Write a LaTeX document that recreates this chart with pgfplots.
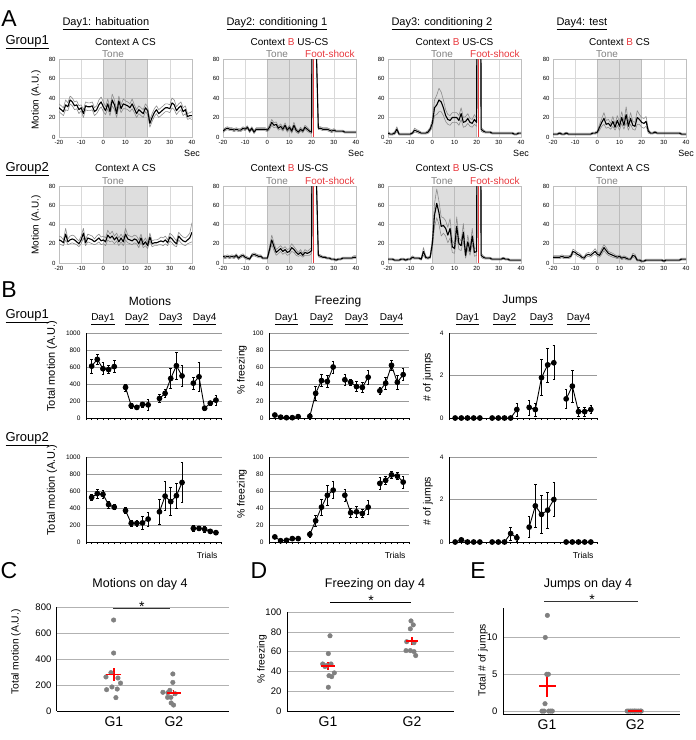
\documentclass[border=0pt]{standalone}
\usepackage{pgfplots}
\pgfplotsset{compat=1.18}
\usepackage{pgfplotstable}
\usepackage{fontspec}
\setmainfont{Liberation Sans}
\definecolor{shock}{HTML}{E8383D}
\definecolor{ptg}{HTML}{808080}
\definecolor{tonegray}{HTML}{7F7F7F}
\newcommand{\fs}[1]{\fontsize{#1}{#1}\selectfont}

% ---------- Panel A data: t, mean, sem ----------
\pgfplotstableread[row sep=\\]{
t m s\\
-20 30 4\\ -19 28 4\\ -18 26 4\\ -17 33 5\\ -16 31 4\\ -15 38 4\\ -14 36 4\\ -13 32 4\\ -12 33 4\\ -11 28 4\\ -10 30 3\\ -9 24 4\\ -8 32 4\\ -7 31 4\\ -6 31 4\\ -5 32 4\\ -4 26 4\\ -3 28 4\\ -2 33 5\\ -1 36 5\\ 0 31 5\\ 1 27 4\\ 2 34 5\\ 3 26 4\\ 4 38 6\\ 5 33 5\\ 6 24 4\\ 7 37 5\\ 8 29 4\\ 9 34 5\\ 10 33 4\\ 11 32 4\\ 12 30 4\\ 13 34 5\\ 14 29 4\\ 15 24 4\\ 16 28 4\\ 17 26 4\\ 18 24 4\\ 19 30 4\\ 20 27 4\\ 21 14 4\\ 22 20 4\\ 23 25 4\\ 24 28 4\\ 25 24 4\\ 26 26 4\\ 27 28 4\\ 28 30 4\\ 29 30 4\\ 30 29 4\\ 31 35 5\\ 32 33 5\\ 33 27 4\\ 34 30 4\\ 35 32 4\\ 36 26 4\\ 37 28 4\\ 38 21 3\\ 39 22 3\\ 40 22 4\\
}\aA
\pgfplotstableread[row sep=\\]{
t m s\\
-20 6 1.5\\ -19 8 1.5\\ -18 9 1.5\\ -17 8 1.5\\ -16 8 1.5\\ -15 7 1.5\\ -14 8 1.5\\ -13 7 1.5\\ -12 7 1.5\\ -11 9 1.5\\ -10 8 1.5\\ -9 10 1.5\\ -8 6 1.5\\ -7 9 1.5\\ -6 5 1.5\\ -5 8 1.5\\ -4 8 1.5\\ -3 8 1.5\\ -2 8 1.5\\ -1 8 1.5\\ 0 7 1.5\\ 1 10 2.5\\ 2 15 3\\ 3 12 2.5\\ 4 13 2.5\\ 5 9 2\\ 6 11 2.5\\ 7 8 2\\ 8 12 2.5\\ 9 7 2\\ 10 10 2\\ 11 6 2\\ 12 12 3\\ 13 7 2\\ 14 5 1.5\\ 15 8 2\\ 16 6 1.5\\ 17 10 2\\ 18 8 2\\ 19 6 1.5\\ 20 5 1.5\\ 21 1000 20\\ 22 100 10\\ 23 9 1.5\\ 24 9 1.5\\ 25 8 1.5\\ 26 8 1.5\\ 27 8 1.5\\ 28 7 1.5\\ 29 6 1.5\\ 30 7 1.5\\ 31 6 1\\ 32 6 1\\ 33 6 1\\ 34 6 1\\ 35 5 1\\ 36 5 1\\ 37 5 1\\ 38 5 1\\ 39 5 1\\ 40 5 1\\
}\aB
\pgfplotstableread[row sep=\\]{
t m s\\
-20 4 1.5\\ -19 3 1\\ -18 3 1\\ -17 4 1.5\\ -16 8 2.5\\ -15 3 1\\ -14 3 1\\ -13 3 1\\ -12 3 1\\ -11 3 1\\ -10 3 1\\ -9 4 1\\ -8 7 2\\ -7 6 1.5\\ -6 5 1.5\\ -5 4 1\\ -4 4 1\\ -3 4 1\\ -2 5 1.5\\ -1 8 2\\ 0 14 4\\ 1 30 8\\ 2 33 10\\ 3 38 12\\ 4 36 10\\ 5 30 8\\ 6 22 6\\ 7 18 5\\ 8 17 5\\ 9 20 5\\ 10 20 5\\ 11 20 5\\ 12 17 5\\ 13 24 6\\ 14 15 5\\ 15 16 5\\ 16 19 5\\ 17 15 4\\ 18 14 4\\ 19 18 5\\ 20 15 4\\ 21 1000 20\\ 22 8 2\\ 23 6 1.5\\ 24 5 1\\ 25 5 1\\ 26 5 1\\ 27 4 1\\ 28 4 1\\ 29 4 1\\ 30 4 1\\ 31 4 1\\ 32 4 1\\ 33 4 1\\ 34 4 1\\ 35 4 1\\ 36 4 1\\ 37 3 1\\ 38 3 1\\ 39 4 1\\ 40 4 1\\
}\aC
\pgfplotstableread[row sep=\\]{
t m s\\
-20 3 1\\ -19 3 1\\ -18 3 1\\ -17 4 1\\ -16 3 1\\ -15 3 1\\ -14 4 1\\ -13 3 1\\ -12 3 1\\ -11 3 1\\ -10 3 1\\ -9 3 1\\ -8 3 1\\ -7 3 1\\ -6 3 1\\ -5 3 1\\ -4 3 1\\ -3 3 1\\ -2 4 1\\ -1 4 1\\ 0 5 1.5\\ 1 10 3\\ 2 15 4\\ 3 19 6\\ 4 13 4\\ 5 14 4\\ 6 11 3\\ 7 16 5\\ 8 10 3\\ 9 17 5\\ 10 11 4\\ 11 20 6\\ 12 12 4\\ 13 23 8\\ 14 11 4\\ 15 19 6\\ 16 12 4\\ 17 11 4\\ 18 20 7\\ 19 18 5\\ 20 15 5\\ 21 14 5\\ 22 16 5\\ 23 6 2\\ 24 4 1\\ 25 4 1\\ 26 5 1\\ 27 4 1\\ 28 4 1\\ 29 4 1\\ 30 4 1\\ 31 4 1\\ 32 4 1\\ 33 4 1\\ 34 4 1\\ 35 4 1\\ 36 4 1\\ 37 4 1\\ 38 3 1\\ 39 3 1\\ 40 3 1\\
}\aD
\pgfplotstableread[row sep=\\]{
t m s\\
-20 24 4\\ -19 23 4\\ -18 21 3\\ -17 30 6\\ -16 22 3\\ -15 24 4\\ -14 25 4\\ -13 24 4\\ -12 22 3\\ -11 20 3\\ -10 24 4\\ -9 31 5\\ -8 21 3\\ -7 26 4\\ -6 25 4\\ -5 24 4\\ -4 22 3\\ -3 24 4\\ -2 26 4\\ -1 23 4\\ 0 24 4\\ 1 22 4\\ 2 29 5\\ 3 26 4\\ 4 28 5\\ 5 24 4\\ 6 27 4\\ 7 22 4\\ 8 26 4\\ 9 22 4\\ 10 30 6\\ 11 25 4\\ 12 24 4\\ 13 23 4\\ 14 25 4\\ 15 24 4\\ 16 20 4\\ 17 26 4\\ 18 19 3\\ 19 22 4\\ 20 18 3\\ 21 27 4\\ 22 20 3\\ 23 21 3\\ 24 21 3\\ 25 22 3\\ 26 23 4\\ 27 22 4\\ 28 24 4\\ 29 21 3\\ 30 27 4\\ 31 25 4\\ 32 22 4\\ 33 20 3\\ 34 28 4\\ 35 25 4\\ 36 23 4\\ 37 22 4\\ 38 24 4\\ 39 26 5\\ 40 32 10\\
}\bA
\pgfplotstableread[row sep=\\]{
t m s\\
-20 7 1.5\\ -19 6 1.5\\ -18 7 1.5\\ -17 6 1.5\\ -16 7 1.5\\ -15 6 1.5\\ -14 8 1.5\\ -13 5 1.5\\ -12 7 1.5\\ -11 8 1.5\\ -10 6 1.5\\ -9 5 1.5\\ -8 4 1\\ -7 8 1.5\\ -6 9 1.5\\ -5 8 1.5\\ -4 7 1.5\\ -3 7 1.5\\ -2 5 1\\ -1 5 1\\ 0 5 1\\ 1 14 3\\ 2 24 5\\ 3 17 4\\ 4 11 3\\ 5 13 3\\ 6 15 3\\ 7 12 3\\ 8 14 3\\ 9 11 3\\ 10 12 3\\ 11 16 4\\ 12 14 3\\ 13 11 3\\ 14 9 2\\ 15 11 3\\ 16 8 2\\ 17 11 3\\ 18 10 2\\ 19 11 3\\ 20 13 3\\ 21 1000 20\\ 22 100 10\\ 23 8 1.5\\ 24 7 1.5\\ 25 6 1\\ 26 6 1\\ 27 5 1\\ 28 5 1\\ 29 4 1\\ 30 4 1\\ 31 3 1\\ 32 4 1\\ 33 4 1\\ 34 5 1\\ 35 5 1\\ 36 5 1\\ 37 5 1\\ 38 5 1\\ 39 6 1.5\\ 40 6 1.5\\
}\bB
\pgfplotstableread[row sep=\\]{
t m s\\
-20 4 1\\ -19 4 1\\ -18 4 1\\ -17 3 1\\ -16 3 1\\ -15 3 1\\ -14 4 1\\ -13 4 1\\ -12 3 1\\ -11 4 1\\ -10 4 1\\ -9 6 1.5\\ -8 5 1\\ -7 5 1\\ -6 5 1\\ -5 4 1\\ -4 12 4\\ -3 6 1.5\\ -2 5 1\\ -1 6 1.5\\ 0 20 6\\ 1 50 12\\ 2 62 15\\ 3 52 12\\ 4 38 10\\ 5 39 8\\ 6 36 8\\ 7 29 8\\ 8 36 10\\ 9 17 6\\ 10 15 5\\ 11 38 10\\ 12 20 6\\ 13 18 5\\ 14 32 9\\ 15 8 3\\ 16 22 7\\ 17 12 4\\ 18 28 8\\ 19 11 4\\ 20 12 4\\ 21 1000 20\\ 22 8 2\\ 23 6 1.5\\ 24 5 1\\ 25 5 1\\ 26 5 1\\ 27 4 1\\ 28 4 1\\ 29 4 1\\ 30 4 1\\ 31 4 1\\ 32 5 1\\ 33 4 1\\ 34 4 1\\ 35 3 1\\ 36 3 1\\ 37 3 1\\ 38 3 1\\ 39 3 1\\ 40 3 1\\
}\bC
\pgfplotstableread[row sep=\\]{
t m s\\
-20 6 1.5\\ -19 6 1.5\\ -18 6 1.5\\ -17 6 1.5\\ -16 7 1.5\\ -15 6 1.5\\ -14 6 1.5\\ -13 6 1.5\\ -12 7 1.5\\ -11 12 2.5\\ -10 11 2\\ -9 9 2\\ -8 8 2\\ -7 6 1.5\\ -6 5 1.5\\ -5 8 2\\ -4 9 2\\ -3 8 2\\ -2 10 2\\ -1 12 3\\ 0 9 2\\ 1 8 2\\ 2 12 3\\ 3 16 3\\ 4 13 3\\ 5 10 2\\ 6 9 2\\ 7 8 2\\ 8 7 1.5\\ 9 6 1.5\\ 10 7 1.5\\ 11 5 1.5\\ 12 6 1.5\\ 13 5 1.5\\ 14 4 1\\ 15 4 1\\ 16 8 2\\ 17 7 2\\ 18 3 1\\ 19 3 1\\ 20 2 1\\ 21 2 1\\ 22 3 1\\ 23 3 1\\ 24 3 1\\ 25 3 1\\ 26 3 1\\ 27 3 1\\ 28 3 1\\ 29 3 1\\ 30 2 1\\ 31 3 1\\ 32 3 1\\ 33 3 1\\ 34 3 1\\ 35 3 1\\ 36 3 1\\ 37 3 1\\ 38 4 1\\ 39 4 1\\ 40 4 1\\
}\bD

% ---------- Panel B data: trial, mean, sem ----------
\pgfplotstableread[row sep=\\]{
x y e\\
1 610 80\\ 2 690 60\\ 3 580 70\\ 4 570 45\\ 5 605 70\\ 6 nan 0\\ 7 360 40\\ 8 145 25\\ 9 125 20\\ 10 160 30\\ 11 155 65\\ 12 nan 0\\ 13 230 45\\ 14 290 50\\ 15 465 120\\ 16 615 155\\ 17 495 125\\ 18 nan 0\\ 19 410 70\\ 20 485 165\\ 21 115 20\\ 22 175 25\\ 23 210 55\\
}\motA
\pgfplotstableread[row sep=\\]{
x y e\\
1 525 40\\ 2 570 55\\ 3 560 45\\ 4 440 40\\ 5 410 30\\ 6 nan 0\\ 7 370 35\\ 8 220 30\\ 9 220 40\\ 10 225 75\\ 11 270 80\\ 12 nan 0\\ 13 355 150\\ 14 540 170\\ 15 475 165\\ 16 545 150\\ 17 700 235\\ 18 nan 0\\ 19 160 35\\ 20 160 25\\ 21 150 35\\ 22 125 20\\ 23 110 25\\
}\motB
\pgfplotstableread[row sep=\\]{
x y e\\
1 3.5 2\\ 2 1 1\\ 3 0.4 0.5\\ 4 0.4 0.5\\ 5 1.6 1\\ 6 nan 0\\ 7 2 3\\ 8 29 8\\ 9 44 7\\ 10 43 7\\ 11 60 7\\ 12 nan 0\\ 13 45 7\\ 14 42 4\\ 15 37 6\\ 16 36 6\\ 17 48 8\\ 18 nan 0\\ 19 32 4\\ 20 41 7\\ 21 62 6\\ 22 42 8\\ 23 51 7\\
}\frzA
\pgfplotstableread[row sep=\\]{
x y e\\
1 6 1.5\\ 2 1.5 1\\ 3 2 1\\ 4 4 1\\ 5 4 1\\ 6 nan 0\\ 7 9 4\\ 8 25 7\\ 9 41 9\\ 10 55 12\\ 11 61 10\\ 12 nan 0\\ 13 55 7\\ 14 34.5 5\\ 15 35.5 7\\ 16 33.5 5\\ 17 41 8\\ 18 nan 0\\ 19 69 7\\ 20 72.5 5\\ 21 79 4\\ 22 77.5 4\\ 23 70.5 7\\
}\frzB
\pgfplotstableread[row sep=\\]{
x y e\\
1 0 0\\ 2 0 0\\ 3 0 0\\ 4 0 0\\ 5 0 0\\ 6 nan 0\\ 7 0 0\\ 8 0 0\\ 9 0 0\\ 10 0 0\\ 11 0.4 0.3\\ 12 nan 0\\ 13 0.5 0.35\\ 14 0.4 0.3\\ 15 1.9 0.85\\ 16 2.5 0.8\\ 17 2.6 0.8\\ 18 nan 0\\ 19 0.9 0.45\\ 20 1.5 0.75\\ 21 0.3 0.2\\ 22 0.3 0.2\\ 23 0.4 0.2\\
}\jmpA
\pgfplotstableread[row sep=\\]{
x y e\\
1 0 0\\ 2 0.1 0.08\\ 3 0 0\\ 4 0 0\\ 5 0 0\\ 6 nan 0\\ 7 0 0\\ 8 0 0\\ 9 0 0\\ 10 0.4 0.3\\ 11 0.2 0.15\\ 12 nan 0\\ 13 0.7 0.5\\ 14 1.7 1.0\\ 15 1.3 0.9\\ 16 1.5 0.85\\ 17 2.0 0.8\\ 18 nan 0\\ 19 0 0\\ 20 0 0\\ 21 0 0\\ 22 0 0\\ 23 0 0\\
}\jmpB

\pgfplotsset{
  Astyle/.style={scale only axis, anchor=south west, width=133pt, height=78pt,
    xmin=-20, xmax=40, ymin=0, ymax=80,
    xtick={-20,-10,...,40}, ytick={0,20,...,80}, grid=major,
    major grid style={draw=black!15, line width=0.5pt},
    axis line style={draw=black!25, line width=0.5pt},
    tick style={draw=none},
    tick label style={font=\fs{6}},
    /pgf/number format/assume math mode=true},
  sem/.style={draw=black!45, line width=0.6pt, line join=round, no markers},
  mean/.style={draw=black, line width=1.1pt, line join=round, no markers},
  Bstyle/.style={scale only axis, anchor=south west, height=85pt, xmin=0, xmax=24, ymin=0,
    axis x line=bottom, axis y line=left, axis line style={-, line width=0.8pt, black},
    xtick={0,...,24}, xticklabels={,,}, tick align=outside, major tick length=2pt,
    xtick style={black, line width=0.4pt}, ytick style={draw=none},
    ymajorgrids, major grid style={draw=black!40, line width=0.5pt},
    tick label style={font=\fs{6.5}},
    /pgf/number format/assume math mode=true, /pgf/number format/1000 sep={},
    unbounded coords=jump, clip=false},
  Bplot/.style={black, line width=0.9pt, mark=*, mark size=2.4pt,
    mark options={fill=black, draw=black, solid},
    error bars/.cd, y dir=both, y explicit,
    error bar style={line width=0.6pt, black},
    error mark options={rotate=90, mark size=1.3pt, line width=0.6pt, black}},
  Cstyle/.style={scale only axis, anchor=south west, axis x line=bottom, axis y line=left,
    axis line style={-, black, line width=1pt}, ymajorgrids,
    major grid style={draw=black!30, line width=0.6pt}, tick style={draw=none},
    tick label style={font=\fs{9.5}}, xtick={1,2}, xticklabels={G1,G2},
    xticklabel style={font=\fs{14}}, clip=false,
    /pgf/number format/assume math mode=true},
  pts/.style={only marks, mark=*, mark size=2.3pt, mark options={fill=ptg, draw=ptg}},
  cross/.style={only marks, red, mark=-, mark size=#1, mark options={line width=1.2pt, red},
    error bars/.cd, y dir=both, y explicit, error mark=none,
    error bar style={red, line width=1.2pt}},
}

\begin{document}
\begin{tikzpicture}
\path[use as bounding box] (0pt,0pt) rectangle (696pt,-740pt);

% ================= Panel A =================
% Group 1
\begin{axis}[Astyle, at={(59pt,-137pt)}]
\fill[black,opacity=0.13] (axis cs:0,0) rectangle (axis cs:20,80);
\addplot[sem] table[x=t,y expr=\thisrow{m}+\thisrow{s}]{\aA};
\addplot[sem] table[x=t,y expr=\thisrow{m}-\thisrow{s}]{\aA};
\addplot[mean] table[x=t,y=m]{\aA};
\end{axis}
\begin{axis}[Astyle, at={(223pt,-137pt)}]
\fill[black,opacity=0.13] (axis cs:0,0) rectangle (axis cs:20,80);
\addplot[sem] table[x=t,y expr=\thisrow{m}+\thisrow{s}]{\aB};
\addplot[sem] table[x=t,y expr=\thisrow{m}-\thisrow{s}]{\aB};
\addplot[mean] table[x=t,y=m]{\aB};
\fill[shock] (axis cs:20.45,0) rectangle (axis cs:21.15,80);
\end{axis}
\begin{axis}[Astyle, at={(388pt,-137pt)}]
\fill[black,opacity=0.13] (axis cs:0,0) rectangle (axis cs:20,80);
\addplot[sem] table[x=t,y expr=\thisrow{m}+\thisrow{s}]{\aC};
\addplot[sem] table[x=t,y expr=\thisrow{m}-\thisrow{s}]{\aC};
\addplot[mean] table[x=t,y=m]{\aC};
\fill[shock] (axis cs:20.45,0) rectangle (axis cs:21.15,80);
\end{axis}
\begin{axis}[Astyle, at={(553pt,-137pt)}]
\fill[black,opacity=0.13] (axis cs:0,0) rectangle (axis cs:20,80);
\addplot[sem] table[x=t,y expr=\thisrow{m}+\thisrow{s}]{\aD};
\addplot[sem] table[x=t,y expr=\thisrow{m}-\thisrow{s}]{\aD};
\addplot[mean] table[x=t,y=m]{\aD};
\end{axis}
% Group 2
\begin{axis}[Astyle, height=77pt, at={(59pt,-263pt)}]
\fill[black,opacity=0.13] (axis cs:0,0) rectangle (axis cs:20,80);
\addplot[sem] table[x=t,y expr=\thisrow{m}+\thisrow{s}]{\bA};
\addplot[sem] table[x=t,y expr=\thisrow{m}-\thisrow{s}]{\bA};
\addplot[mean] table[x=t,y=m]{\bA};
\end{axis}
\begin{axis}[Astyle, height=77pt, at={(223pt,-263pt)}]
\fill[black,opacity=0.13] (axis cs:0,0) rectangle (axis cs:20,80);
\addplot[sem] table[x=t,y expr=\thisrow{m}+\thisrow{s}]{\bB};
\addplot[sem] table[x=t,y expr=\thisrow{m}-\thisrow{s}]{\bB};
\addplot[mean] table[x=t,y=m]{\bB};
\fill[shock] (axis cs:20.45,0) rectangle (axis cs:21.15,80);
\end{axis}
\begin{axis}[Astyle, height=77pt, at={(388pt,-263pt)}]
\fill[black,opacity=0.13] (axis cs:0,0) rectangle (axis cs:20,80);
\addplot[sem] table[x=t,y expr=\thisrow{m}+\thisrow{s}]{\bC};
\addplot[sem] table[x=t,y expr=\thisrow{m}-\thisrow{s}]{\bC};
\addplot[mean] table[x=t,y=m]{\bC};
\fill[shock] (axis cs:20.45,0) rectangle (axis cs:21.15,80);
\end{axis}
\begin{axis}[Astyle, height=77pt, at={(553pt,-263pt)}]
\fill[black,opacity=0.13] (axis cs:0,0) rectangle (axis cs:20,80);
\addplot[sem] table[x=t,y expr=\thisrow{m}+\thisrow{s}]{\bD};
\addplot[sem] table[x=t,y expr=\thisrow{m}-\thisrow{s}]{\bD};
\addplot[mean] table[x=t,y=m]{\bD};
\end{axis}

% ================= Panel B =================
\begin{axis}[Bstyle, width=135.6pt, at={(86pt,-418pt)}, ymax=1000, ytick={0,200,...,1000}]
\addplot[Bplot] table[x=x,y=y,y error=e]{\motA};
\node[font=\fs{10}, yshift=14pt] at (axis cs:3,1000) {\underline{Day1}};
\node[font=\fs{10}, yshift=14pt] at (axis cs:9,1000) {\underline{Day2}};
\node[font=\fs{10}, yshift=14pt] at (axis cs:15,1000) {\underline{Day3}};
\node[font=\fs{10}, yshift=14pt] at (axis cs:21,1000) {\underline{Day4}};
\end{axis}
\begin{axis}[Bstyle, width=140pt, at={(269pt,-418pt)}, ymax=100, ytick={0,20,...,100}]
\addplot[Bplot] table[x=x,y=y,y error=e]{\frzA};
\node[font=\fs{10}, yshift=14pt] at (axis cs:3,100) {\underline{Day1}};
\node[font=\fs{10}, yshift=14pt] at (axis cs:9,100) {\underline{Day2}};
\node[font=\fs{10}, yshift=14pt] at (axis cs:15,100) {\underline{Day3}};
\node[font=\fs{10}, yshift=14pt] at (axis cs:21,100) {\underline{Day4}};
\end{axis}
\begin{axis}[Bstyle, width=148pt, at={(449pt,-418pt)}, ymax=4, ytick={0,2,4}]
\addplot[Bplot] table[x=x,y=y,y error=e]{\jmpA};
\node[font=\fs{10}, yshift=14pt] at (axis cs:3,4) {\underline{Day1}};
\node[font=\fs{10}, yshift=14pt] at (axis cs:9,4) {\underline{Day2}};
\node[font=\fs{10}, yshift=14pt] at (axis cs:15,4) {\underline{Day3}};
\node[font=\fs{10}, yshift=14pt] at (axis cs:21,4) {\underline{Day4}};
\end{axis}
\begin{axis}[Bstyle, width=135.6pt, at={(86pt,-542pt)}, ymax=1000, ytick={0,200,...,1000}]
\addplot[Bplot] table[x=x,y=y,y error=e]{\motB};
\end{axis}
\begin{axis}[Bstyle, width=140pt, at={(269pt,-542pt)}, ymax=100, ytick={0,20,...,100}]
\addplot[Bplot] table[x=x,y=y,y error=e]{\frzB};
\end{axis}
\begin{axis}[Bstyle, width=148pt, at={(449pt,-542pt)}, ymax=4, ytick={0,2,4}]
\addplot[Bplot] table[x=x,y=y,y error=e]{\jmpB};
\end{axis}

% ================= Panel C =================
\begin{axis}[Cstyle, width=172pt, height=104pt, at={(57pt,-711pt)},
  xmin=0.05, xmax=2.92, ymin=0, ymax=800, ytick={0,200,...,800}]
\addplot[pts] coordinates {(0.995,700) (0.995,446) (0.95,295) (0.867,262) (1.067,254) (1.11,215) (0.967,185) (1.055,169) (0.878,164) (1.033,103)};
\addplot[pts] coordinates {(1.983,285) (1.983,220) (1.933,159) (1.817,144) (1.9,141) (2.022,133) (1.895,105) (1.95,105) (1.955,62) (1.995,46)};
\addplot[cross=7.5pt] coordinates {(1.0,282) +- (0,49)};
\addplot[cross=7pt] coordinates {(1.995,138) +- (0,25)};
\draw[black!80, line width=0.8pt] (axis cs:0.983,792) -- (axis cs:1.933,792);
\node[anchor=base, font=\fs{14}, yshift=-3pt] at (axis cs:1.467,792) {*};
\end{axis}

% ================= Panel D =================
\begin{axis}[Cstyle, width=167pt, height=99pt, at={(287pt,-711pt)},
  xmin=0.512, xmax=2.5, ymin=0, ymax=100, ytick={0,20,...,100}]
\addplot[pts] coordinates {(1.024,76) (1.004,58) (0.937,47.5) (1.036,47.5) (0.964,45) (0.985,46) (1.075,38.5) (1.012,35.7) (1.044,34.7) (1.004,24)};
\addplot[pts] coordinates {(1.988,91) (2.015,87) (1.98,83) (1.937,70) (2.024,69) (1.929,61) (1.98,61) (2.024,60) (2.044,56)};
\addplot[cross=7pt] coordinates {(1.0,45.5) +- (0,4.3)};
\addplot[cross=6pt] coordinates {(2.0,70.7) +- (0,3.9)};
\draw[black, line width=0.8pt] (axis cs:1.024,110) -- (axis cs:1.988,110);
\node[anchor=base, font=\fs{14}, yshift=-3pt] at (axis cs:1.512,110) {*};
\end{axis}

% ================= Panel E =================
\begin{axis}[Cstyle, width=177pt, height=106pt, at={(503pt,-714pt)},
  xmin=0.5, xmax=2.51, ymin=-0.4, ymax=14, ytick={0,5,10}]
\addplot[pts] coordinates {(1.004,13) (0.98,10) (1.015,5) (0.997,5) (0.977,1) (0.943,0) (0.966,0) (1.019,0) (1.042,0) (1.06,0)};
\addplot[pts] coordinates {(1.91,0) (1.93,0) (1.95,0) (1.97,0) (1.99,0) (2.0,0) (2.02,0) (2.04,0) (2.06,0) (2.07,0)};
\addplot[cross=8.5pt] coordinates {(1.0,3.4) +- (0,1.45)};
\addplot[cross=7pt] coordinates {(2.0,0) +- (0,0)};
\draw[black!80, line width=0.8pt] (axis cs:0.966,14.95) -- (axis cs:2.034,14.95);
\node[anchor=base, font=\fs{14}, yshift=-3pt] at (axis cs:1.511,14.95) {*};
\end{axis}

% ================= Text =================
\begin{scope}[x=1pt,y=-1pt]
% Panel A
\node[font=\fs{23}] at (9,19) {A};
\node[anchor=west,font=\fs{11}] at (59,24) {\underline{Day1: habituation}};
\node[anchor=west,font=\fs{11}] at (223,24) {\underline{Day2: conditioning 1}};
\node[anchor=west,font=\fs{11}] at (388,24) {\underline{Day3: conditioning 2}};
\node[anchor=west,font=\fs{11}] at (553,24) {\underline{Day4: test}};
\node[anchor=west,font=\fs{13}] at (2,42) {\underline{Group1}};
\node[anchor=west,font=\fs{13}] at (2,169) {\underline{Group2}};
\node[font=\fs{10}] at (125.5,42) {Context A CS};
\node[font=\fs{10}] at (289.5,42) {Context \textcolor{shock}{B} US-CS};
\node[font=\fs{10}] at (454.5,42) {Context \textcolor{shock}{B} US-CS};
\node[font=\fs{10}] at (619.5,42) {Context \textcolor{shock}{B} CS};
\node[font=\fs{10}] at (125.5,168) {Context A CS};
\node[font=\fs{10}] at (289.5,168) {Context \textcolor{shock}{B} US-CS};
\node[font=\fs{10}] at (454.5,168) {Context \textcolor{shock}{B} US-CS};
\node[font=\fs{10}] at (619.5,168) {Context A CS};
\foreach \L in {59,223,388,553} {
  \node[anchor=west,font=\fs{10},text=tonegray,inner sep=0pt] at (\L+43,54) {Tone};
  \node[anchor=west,font=\fs{10},text=tonegray,inner sep=0pt] at (\L+43,181) {Tone};
  \node[font=\fs{9}] at (\L+133,153) {Sec};
}
\foreach \L in {223,388} {
  \node[anchor=west,font=\fs{10},text=shock,inner sep=0pt] at (\L+82,54) {Foot-shock};
  \node[anchor=west,font=\fs{10},text=shock,inner sep=0pt] at (\L+82,181) {Foot-shock};
}
\node[rotate=90,font=\fs{10}] at (36,100) {Motion (A.U.)};
\node[rotate=90,font=\fs{10}] at (36,225) {Motion (A.U.)};
% Panel B
\node[font=\fs{23}] at (9,290) {B};
\node[font=\fs{12}] at (150,301) {Motions};
\node[font=\fs{12}] at (338,301) {Freezing};
\node[font=\fs{12}] at (520,301) {Jumps};
\node[anchor=west,font=\fs{13}] at (2,316) {\underline{Group1}};
\node[anchor=west,font=\fs{13}] at (2,439) {\underline{Group2}};
\node[rotate=90,font=\fs{11}] at (52,366) {Total motion (A.U.)};
\node[rotate=90,font=\fs{10.5}] at (242,370) {\% freezing};
\node[rotate=90,font=\fs{10.5}] at (428,377) {\# of jumps};
\node[rotate=90,font=\fs{11}] at (52,490) {Total motion (A.U.)};
\node[rotate=90,font=\fs{10.5}] at (242,494) {\% freezing};
\node[rotate=90,font=\fs{10.5}] at (428,501) {\# of jumps};
\node[anchor=east,font=\fs{8.6}] at (221,555) {Trials};
\node[anchor=east,font=\fs{8.6}] at (409,555) {Trials};
\node[anchor=east,font=\fs{8.6}] at (597,555) {Trials};
% Panels C D E
\node[font=\fs{23}] at (9,571) {C};
\node[font=\fs{23}] at (259,571) {D};
\node[font=\fs{23}] at (478,571) {E};
\node[font=\fs{12.5}] at (140,584) {Motions on day 4};
\node[font=\fs{12.5}] at (375,584) {Freezing on day 4};
\node[font=\fs{12.5}] at (588,584) {Jumps on day 4};
\node[rotate=90,font=\fs{10.3}] at (16,652) {Total motion (A.U.)};
\node[rotate=90,font=\fs{10.3}] at (262,659) {\% freezing};
\node[rotate=90,font=\fs{10.3}] at (483,660) {Total \# of jumps};
\end{scope}
\end{tikzpicture}
\end{document}
